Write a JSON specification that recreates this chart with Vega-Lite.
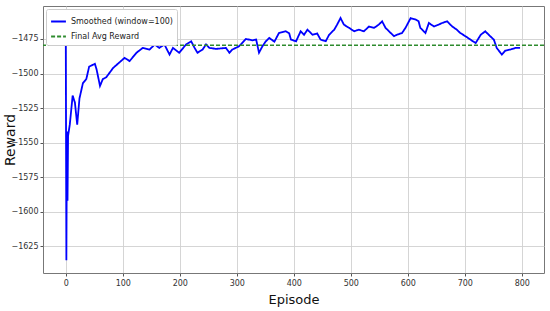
{
  "$schema": "https://vega.github.io/schema/vega-lite/v6.json",
  "width": 501,
  "height": 267,
  "autosize": {"type": "none"},
  "padding": {"left": 43, "top": 6, "right": 6, "bottom": 38},
  "background": "white",
  "config": {
    "font": "DejaVu Sans",
    "view": {"stroke": "#777", "strokeWidth": 1},
    "axis": {
      "gridColor": "#d0d0d0",
      "gridWidth": 0.9,
      "domain": false,
      "tickColor": "#555",
      "tickSize": 3,
      "labelFontSize": 8,
      "labelColor": "#333",
      "titleFont": "DejaVu Sans",
      "titleFontWeight": "normal",
      "titleColor": "#111"
    }
  },
  "datasets": {
    "smoothed": [
      {"episode": 0, "reward": -1478},
      {"episode": 1, "reward": -1635},
      {"episode": 2, "reward": -1542},
      {"episode": 3, "reward": -1592},
      {"episode": 4, "reward": -1545},
      {"episode": 7, "reward": -1537},
      {"episode": 12, "reward": -1516},
      {"episode": 16, "reward": -1521},
      {"episode": 20, "reward": -1537},
      {"episode": 24, "reward": -1518},
      {"episode": 30, "reward": -1507},
      {"episode": 36, "reward": -1504},
      {"episode": 41, "reward": -1495},
      {"episode": 51, "reward": -1493},
      {"episode": 54, "reward": -1497},
      {"episode": 60, "reward": -1509},
      {"episode": 65, "reward": -1504},
      {"episode": 71, "reward": -1502.7},
      {"episode": 83, "reward": -1496},
      {"episode": 94, "reward": -1492},
      {"episode": 103, "reward": -1488.7},
      {"episode": 112, "reward": -1491},
      {"episode": 124, "reward": -1485},
      {"episode": 135, "reward": -1481.5},
      {"episode": 147, "reward": -1482.7},
      {"episode": 156, "reward": -1479},
      {"episode": 164, "reward": -1481.5},
      {"episode": 173, "reward": -1479},
      {"episode": 182, "reward": -1486.3},
      {"episode": 188, "reward": -1481.5},
      {"episode": 199, "reward": -1485},
      {"episode": 211, "reward": -1479},
      {"episode": 220, "reward": -1476.7},
      {"episode": 226, "reward": -1481.5},
      {"episode": 231, "reward": -1485},
      {"episode": 240, "reward": -1482.7},
      {"episode": 246, "reward": -1479},
      {"episode": 252, "reward": -1481.5},
      {"episode": 264, "reward": -1482.2},
      {"episode": 281, "reward": -1481.5},
      {"episode": 287, "reward": -1485},
      {"episode": 292, "reward": -1482.7},
      {"episode": 304, "reward": -1480.3},
      {"episode": 316, "reward": -1475},
      {"episode": 327, "reward": -1476},
      {"episode": 334, "reward": -1475.5},
      {"episode": 339, "reward": -1485},
      {"episode": 345, "reward": -1480.3},
      {"episode": 351, "reward": -1476.7},
      {"episode": 357, "reward": -1474.3},
      {"episode": 366, "reward": -1477},
      {"episode": 374, "reward": -1470.7},
      {"episode": 386, "reward": -1469.5},
      {"episode": 392, "reward": -1471},
      {"episode": 395, "reward": -1475.5},
      {"episode": 404, "reward": -1476.7},
      {"episode": 412, "reward": -1469.5},
      {"episode": 418, "reward": -1472},
      {"episode": 424, "reward": -1468.3},
      {"episode": 433, "reward": -1472},
      {"episode": 441, "reward": -1471},
      {"episode": 447, "reward": -1475.5},
      {"episode": 456, "reward": -1476.7},
      {"episode": 462, "reward": -1472},
      {"episode": 471, "reward": -1468.3},
      {"episode": 476, "reward": -1464.7},
      {"episode": 482, "reward": -1459.9},
      {"episode": 488, "reward": -1464.7},
      {"episode": 497, "reward": -1467},
      {"episode": 506, "reward": -1469.5},
      {"episode": 514, "reward": -1468.3},
      {"episode": 523, "reward": -1469.5},
      {"episode": 532, "reward": -1466},
      {"episode": 541, "reward": -1467},
      {"episode": 549, "reward": -1464.7},
      {"episode": 555, "reward": -1462.3},
      {"episode": 561, "reward": -1467},
      {"episode": 570, "reward": -1470.7},
      {"episode": 576, "reward": -1473},
      {"episode": 581, "reward": -1472},
      {"episode": 590, "reward": -1470.7},
      {"episode": 596, "reward": -1467},
      {"episode": 605, "reward": -1460},
      {"episode": 614, "reward": -1461},
      {"episode": 619, "reward": -1462.3},
      {"episode": 622, "reward": -1467},
      {"episode": 631, "reward": -1470.7},
      {"episode": 637, "reward": -1463.5},
      {"episode": 646, "reward": -1466},
      {"episode": 654, "reward": -1464.7},
      {"episode": 660, "reward": -1463.5},
      {"episode": 669, "reward": -1462.3},
      {"episode": 678, "reward": -1466},
      {"episode": 686, "reward": -1468.3},
      {"episode": 692, "reward": -1470.7},
      {"episode": 701, "reward": -1473},
      {"episode": 710, "reward": -1475.5},
      {"episode": 719, "reward": -1478},
      {"episode": 728, "reward": -1472},
      {"episode": 736, "reward": -1469.5},
      {"episode": 742, "reward": -1472},
      {"episode": 751, "reward": -1475.5},
      {"episode": 756, "reward": -1481.5},
      {"episode": 765, "reward": -1486.3},
      {"episode": 771, "reward": -1483.5},
      {"episode": 780, "reward": -1482.7},
      {"episode": 789, "reward": -1481.5},
      {"episode": 797, "reward": -1481.5}
    ],
    "final": [{"reward": -1479.6}]
  },
  "layer": [
    {
      "data": {"name": "smoothed"},
      "transform": [{"calculate": "'Smoothed (window=100)'", "as": "series"}],
      "mark": {"type": "line", "strokeWidth": 1.8, "interpolate": "linear"},
      "encoding": {
        "x": {
          "field": "episode", "type": "quantitative",
          "scale": {"domain": [-40, 839], "nice": false, "zero": false},
          "axis": {"values": [0, 100, 200, 300, 400, 500, 600, 700, 800], "format": "d", "title": "Episode", "titleFontSize": 13, "titlePadding": 6, "labelPadding": 3}
        },
        "y": {
          "field": "reward", "type": "quantitative",
          "scale": {"domain": [-1644.2, -1451.2], "nice": false, "zero": false},
          "axis": {"values": [-1625, -1600, -1575, -1550, -1525, -1500, -1475], "format": "d", "title": "Reward", "titleFontSize": 14, "titleX": -26, "titleBaseline": "bottom", "labelPadding": 2}
        },
        "color": {
          "field": "series", "type": "nominal",
          "scale": {"domain": ["Smoothed (window=100)", "Final Avg Reward"], "range": ["#0000ff", "#2e8b2e"]},
          "legend": {
            "title": null, "orient": "top-left", "offset": 3,
            "symbolType": "stroke", "symbolSize": 220, "symbolStrokeWidth": 1.8,
            "labelFontSize": 8, "labelColor": "#222", "rowPadding": 2,
            "fillColor": "white", "strokeColor": "#ccc", "padding": 4, "cornerRadius": 2
          }
        },
        "strokeDash": {
          "field": "series", "type": "nominal",
          "scale": {"domain": ["Smoothed (window=100)", "Final Avg Reward"], "range": [[1, 0], [4, 2]]},
          "legend": null
        }
      }
    },
    {
      "data": {"name": "final"},
      "transform": [{"calculate": "'Final Avg Reward'", "as": "series"}],
      "mark": {"type": "rule", "strokeWidth": 1.5},
      "encoding": {
        "y": {"field": "reward", "type": "quantitative"},
        "color": {"field": "series", "type": "nominal"},
        "strokeDash": {"field": "series", "type": "nominal"}
      }
    }
  ]
}
